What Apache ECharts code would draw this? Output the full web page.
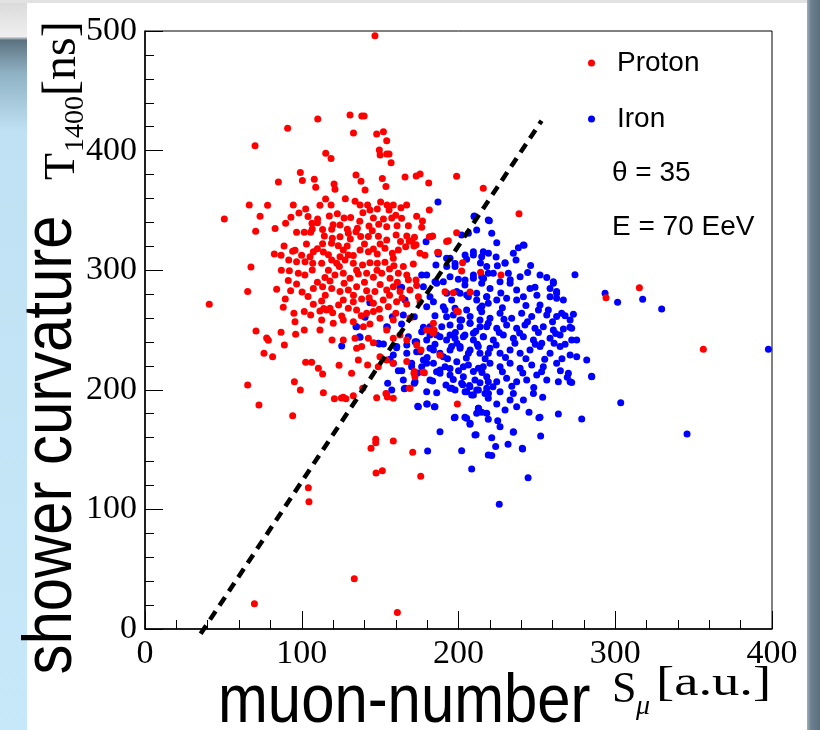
<!DOCTYPE html>
<html>
<head>
<meta charset="utf-8">
<script src="https://cdn.jsdelivr.net/npm/echarts@6/dist/echarts.min.js"></script>
<style>
html,body{margin:0;padding:0;background:#fff;}
#chart{width:820px;height:730px;}
</style>
</head>
<body>
<div id="chart"></div>
<script>
// ---- data (S_mu [a.u.], T1400 [ns]) ----
var protonPoints = [
[146.7,496],
[110.2,426.4],[130.8,429.8],[138.3,428.9],[139.8,428.9],
[91.0,418.6],[133,414.7],[147.8,413.9],[152.1,415.8],[154.2,408.3],
[70.2,404.1],[149.5,400.5],[154.2,397.2],[150,396.3],[155.7,397.2],
[115.3,397.7],[118.7,393.3],[157,389.9],
[99.1,381.6],[134.6,379.6],[165.9,378],[173,378.8],[175.5,380.5],[151.4,376.6],[85.1,373.8],[100.4,374.9],[108,376],[120.6,372.1],[137.8,374.3],[153.7,369.9],[181,372.9],[108.9,369.3],[121.2,367.7],[140.4,367.1],[198.8,378.5],[215.8,368.5],
[115.2,359.5],[127.8,359.8],[150.3,357.1],[134,357.6],[137.2,354.5],[142,354.5],[143.5,350.4],[66.5,354.5],[78.2,354.3],[94.6,354.5],[102.5,351.2],[111.6,354.3],[118.7,354.5],[154.4,354.5],[158.4,354.5],[163.3,352.3],[166.9,354.5],[148.2,351.2],[155.7,350.4],[181.4,350.4],
[98.2,347.8],[93.1,344.2],[73.4,345.1],[110.1,342.8],[106.5,339.2],[110,339.7],[117.6,345.3],[122.7,347.3],[127,343.7],[131.2,344],[145.7,343.7],[152.1,342.8],[157.4,343.7],[163.7,343.4],[173.3,345.1],[177,341.2],[176.5,335.9],[50.6,342.8],[83,334.8],[89.7,339.2],
[106.7,334.4],[113.3,334.1],[119.1,334.2],[124.4,337.8],[129.1,334.2],[135.5,335],[142.9,337],[149.1,338.4],[154.2,336.4],[160.8,337.2],[168,337.2],[70.6,332.5],[96.7,331.7],[101.6,331.7],[105.7,331.7],
[114.4,328.6],[119.5,326.7],[124.4,328],[129.7,330.8],[134.6,332.2],[137.6,328.1],[142.5,328.1],[148.9,328.3],[154.2,325.3],[160.2,329.4],[167,328.6],[171.9,327.5],[168.6,324.2],[172.9,321.3],[182.4,328],[183.5,328.6],[192.4,323.9],
[88.7,320.2],[82.5,313.5],[86.8,312.4],[94.2,315.8],[95.7,316.6],[99.9,312.4],[105.3,311.3],[107.4,315.5],[113.8,315.2],[113.3,322.2],[119,322.5],[123.3,320.5],[126.5,316.9],[129,320.2],[129.7,312.7],[124.4,311.3],[132.9,312.2],[137.2,316.9],[142.5,315.5],[145.7,317.8],[148.2,313.6],[153.1,318.3],[157.8,314.1],[161.6,316.9],[166.3,319.7],[171.6,320.2],[170.3,324.7],[175.4,314.1],[178.6,312.4],
[67.6,302.7],
[91.7,308.5],[96.7,307.1],[102.1,307.1],[107,305.8],[112.7,305.8],[119.1,308.5],[122.3,305.8],[127.6,308.5],[132.9,305.8],[138.8,304.4],[143.5,306.3],[148.2,305.8],[153.1,306.6],[158.4,310],[158.8,303.8],[164.8,303],[171.2,305.2],
[92.1,299.6],[97.8,297.4],[106.7,300.2],[114.8,293.8],[121.2,296],[126.5,297.4],[130.8,293.3],[136.1,296.9],[141.4,297.4],[145.7,294.1],[151,297.4],[156.3,293.3],[161.6,297.4],[167,296],[172.9,291.9],
[91.4,291.3],[96.7,288.5],[100.2,281.8],[92.9,282.9],[65.5,282.1],[41,271.5],[89.5,276],[88.2,269],
[95,264],[101.6,265.4],[107.4,271.5],[112.7,274.3],[118,268.1],[123.5,270.9],
[107.4,284.6],[113.3,286.2],[119.1,284.8],[124.4,282.1],[129.7,283.4],[135,286.2],[141.4,282.9],[146.7,282.1],[154.2,283.4],[158.4,286.2],[162.7,282.1],[169,283.4],[173.3,287.3],
[126.5,275.1],[132.9,273.7],[138.2,276],[145.7,272.3],[152,275.1],[160.5,273.7],[167,271.8],[175.4,273.7],[174.4,277.9],
[95.7,257],[105.7,262.5],[111.6,265.9],[115.9,266.7],[119.7,264.5],[125.5,261.7],[129.7,268.1],[135,266.7],[141.4,264],[145.7,265.4],[149.5,267.3],[155.2,269.5],[149.9,259.8],[158.4,258.4],
[112.7,258.4],[120.1,255.6],[126.5,258.4],[132.9,257],[139.3,252.8],[143.5,255],[154.2,250.1],
[70.8,249.2],[77.6,243.3],[78.7,241.4],[86.8,248.1],[88.9,237.5],[96.1,246.4],[101.6,250.1],
[111.6,250.1],[119.3,241.7],[126.5,241.7],[134,243],[135,234.7],[138.2,236.1],[142.5,243],[145.7,239.4],[158.4,243],[162.7,245.8],[167,241.7],[173.3,237.5],[179.7,250.1],[183.9,247.3],
[75.9,230.5],[81.4,227.7],[102.5,223],[106.3,223],[110.6,218],[113.3,213.2],
[123.8,220.5],[131.8,213.8],[136.1,225],[142,220.8],[148.8,219.3],[149.9,227.7],[154.2,225],[158.4,222.2],[167,223.6],[171.8,215.2],[172.2,211],[177.5,214.6],
[65.5,204],[95.3,206.8],[99.1,199.8],[113.8,197.6],[126.5,193.7],[132.9,195.1],[147.8,193.4],[154.2,196.5],[158.4,192.9],
[181.4,328],[202.6,306.3],[202,299.3],[214.1,298.2],[191.4,282],[196.7,281.2],[198.8,265.9],[184.4,250],[188.2,228.8],[186.7,315],
[72.7,187.3],[94.2,178.4],[120.8,192.6],[125.3,193.2],[128.2,192.6],[138.9,201.2],[153.7,197],[154.6,194],[169.1,201.2],[199.3,188.1],
[147.2,158.6],[147.2,155.8],[144.2,151.1],[158.4,157.2],[170.8,147.7],[147.4,130.4],[151.4,132.4],[175.9,127.7],[104.2,118.2],[104.6,106.5],[133.5,42.1],[69.8,21.2],[161,13.9],
[238.6,347.3],[198.8,331.4],[193.5,324.7],[187.2,314.7],[227.1,296],[207.4,281.8],[199.9,265.3],[184,255.6],[182.9,250],[176.1,233.3],[178.2,214.3],[171.6,213.8],[168.7,201.2],
[315.4,285.4],[294.1,277.0],[356.2,233.9],
[103,322],[110,318],[117,313],[131,326],[140,322],[150,322],[163,324],[117,300],[124,303],[135,300],[148,300],[156,301],
[110,290],[118,291],[127,289],[140,290],[150,288],[161,290],[168,292],[104,278],[115,279],[133,279],[143,277],[156,279],[164,277],
[120,338],[137,341],[145,333],[102,296],[87,300],[84,284],[104,345],[139,348],[160,346],[114,268],[138,262],[160,264],[169,260]
];

var ironPoints = [
[186.9,357],[209.9,344.8],[211.6,333.6],[206.3,330.8],[202.0,329.4],[219,342],[179.3,323.8],
[187.1,313.5],[192.4,309.9],[197.8,303],[209.5,312.7],[214.8,311.3],[215.8,315.5],[218,303],
[185.6,304.3],[179.7,296],[176.5,296],[185,290.4],[190.3,290.4],[194.6,294.6],[199.9,292.4],[204.1,287.6],[209.5,296],[214.8,294.6],[219,297.4],
[163.7,285.7],[177.6,286.2],[181.8,277.9],[184,273.7],[190.3,269.5],[195.6,275.1],[201,280.7],[206.3,277.9],[211.6,280.7],[218,277.9],
[143.5,272.8],[165.9,275.1],[179.7,269.5],[197.8,268.1],[205.2,266.7],[213.7,268.1],[219,272.3],
[140.4,260.6],[134.6,252.8],[154.6,252.2],[157.8,261.1],[163.7,255],[171.8,261.1],[177.6,252.2],
[189.3,252.8],[192.4,261.1],[201,258.4],[207.3,255.6],[213.7,258.4],[218,252.8],
[137.2,243.9],[125.5,236.6],[149.5,238.3],[160.5,235.2],[167,237.5],[173.3,240.2],[179.7,241.6],[186.1,245.8],[192.4,241.6],[197.8,243],[204.1,245.8],[209.5,247.2],[215.8,244.4],
[158.4,229.1],[167,230.5],[177.6,224.9],[184,233.3],[190.3,227.7],[195.6,236.1],[201,234.7],[206.3,230.5],[212.6,236.1],[219,230.5],
[161.6,216],[170.1,219.3],[179.7,222.1],[188.2,216.5],[194.6,217.9],[203.1,219.3],[209.5,215.2],[215.8,219.3],
[154.8,205.4],[165.4,200.9],[171.8,205.4],[183.5,207.3],[196.7,208.7],[202,205.4],[207.3,202.6],[213.7,205.9],[219,206.8],
[157.4,199.8],[186.1,197.6],[197.8,199.8],[209.5,195.6],[216.9,197],
[174,186.2],[179.7,188.1],[184.6,185.9],[194.6,201.2],[202.7,204.3],[205.2,198.4],[208.4,195.7],[212.7,199.8],[218,201.2],[219,192.9],
[197.3,176.7],[204.1,177],[207.3,171.1],[211.6,180.3],[214.8,181.2],[210.5,162.2],[212.7,184.5],[219,175.3],
[188.2,165],[180.3,148.8],[202,149.1],[208.4,133.8],[219,145.5],
[210.1,345.3],[219.7,341.4],[221.2,330.8],[224.4,323],
[235,314.1],[238.2,318.8],[241.4,321.1],[229.7,306.3],[236.7,308.5],[219.1,314.1],[209.5,315.5],[204.2,312.7],[205.2,309.1],
[194.6,309.9],[197.8,305.7],[192.5,303],
[222.2,297.4],[231.8,297.4],[239.3,294.6],[244.1,298],[256.3,294],[260.5,290.4],[248.8,285.7],[258.4,284.8],[262.6,282.1],[274.3,296.3],
[204.2,291.8],[209.5,293.2],[214.8,289],[220.1,284.8],[226.5,290.4],[232.9,289],[237.1,283.4],[241.4,277.9],[245.6,284.8],
[186.1,289],[192.5,280.7],[198.9,282.1],[205.2,279.3],[211.6,275.1],[218,277.9],[224.4,275.1],[230.7,276.5],[237.1,275.1],
[262.6,276.5],[258.4,277.9],[266.9,275.1],
[191.4,266.8],[196.7,262.5],[202,258.4],[207.4,261.2],[214.8,265.3],[220.1,259.8],[226.5,264],[233.9,259.8],[240.3,264],[246.7,261.2],[251,266.7],[256.3,262.5],[262.6,261.2],[265.8,264],[271.2,258.4],[272.2,251.4],
[194.6,254.2],[201,252.8],[207.4,255.6],[213.7,252.8],[219,255.6],[224.4,251.4],[230.7,254.2],[237.1,251.4],[242.4,254.2],[248.8,251.4],[254.1,252.8],[260.5,250],
[181.8,245.8],[188.2,244.4],[194.6,245.8],[203.1,244.4],[209.5,241.6],[215.9,244.4],[222.2,241.6],[228.6,245.8],[235,243],[241.4,244.4],[247.8,241.6],[253.1,238.9],[258.4,243],[264.8,245.8],[272.2,241.6],[275.4,241.6],
[172.3,240.2],[175.5,231.9],[181.8,234.7],[188.2,230.5],[194.6,233.3],[201,236.1],[207.4,233.3],[213.7,230.5],[220.1,234.7],[226.5,230.5],[232.9,233.3],[239.3,230.5],[245.6,233.3],[252,236.1],[258.4,230.5],[264.8,236.1],[271.2,229.1],[275.4,227.7],
[281.8,224.9],[285,211],
[170.1,222.1],[176.5,219.3],[184,222.1],[191.4,219.3],[198.9,223.5],[206.3,220.7],[212.7,218],[220.1,222.1],[226.5,219.3],[232.9,222.1],[239.3,218],[246.7,220.7],[254.1,219.3],[262.6,222.1],[270.1,213.8],
[164.8,208.2],[172.3,206.8],[181.8,208.2],[188.2,213.8],[194.6,212.4],[203.1,211],[210.5,208.2],[218,211],[224.4,206.8],[230.7,209.6],[237.1,206.8],[243.5,208.2],[249.9,212.4],[256.3,208.2],[263.7,206.8],[271.2,206.8],
[165.9,201.2],[179.7,198.4],[195.7,201.2],[204.2,198.4],[211.6,199.8],[219.1,197],[226.5,198.4],[235,197],[241.4,191.5],[247.8,197],
[174.4,185.9],[180.1,188.1],[185.0,185.9],[197.8,177],[205.2,176.2],[212.7,184.5],[218,180.3],[224.4,188.1],[229.7,183.1],[232.9,191.5],[237.1,185.9],[245,181.2],[253.7,193.7],[263.7,179.8],[252,177],
[207.4,172],[225,174.2],[226.5,169.2],[235,165],[211.2,162.5],[221.2,160],[223.7,152.5],[231.6,154.4],[240.7,151.1],[252.4,161.4],[278.6,175.6],[303.5,189.2],
[221.2,145],[244.4,126.5],
[293.5,280.7],[301.5,273.2],[317.5,275.7],[329.6,267.6],[397.7,233.9],
[273.3,263.1],[257.3,266.8],[262.6,280.7],[260.5,289.1],[241.8,320.8],[229.7,305.8],[224.8,303.8],
[271.1,252.3],[266.9,250.9],
[284.9,211.3],[272.2,206],[269.4,210.5],[251.3,176.7],[235,164.5],[240.9,150.5],[226,104.3],[345.8,163],
[143.6,273.7],[135,252.8],[136.8,244.4],[148.9,238.9],[152.1,238.3],[154.2,252.8],[164.8,262.5],[160.6,236.1],[156.3,225.5],[158.4,222.1],[163.8,216],[162.7,285.7],[168,244.4],[173.3,231.9],[176.5,248.6],[181.8,252.8],
[215,270],[228,268.5],[243,270.5],[252,271],
[198,248],[211,249],[226,248],[239,247.5],[251,248],[262,247],
[185,238],[199,239],[212,238],[224,237.5],[236,239],[249,238],[261,239],[268,238],
[180,227],[193,226],[205,226.5],[217,226],[230,227],[243,226],[255,225.5],[266,226],
[174,214],[186,215],[200,216],[215,214.5],[228,215],[241,214],[253,215],[265,216],
[192,204],[207,203.5],[222,202.5],[234,203],[248,202],
[185,262],[229,259],[244,257],[260,257],[268,262],
[227,281],[250,279],[233,292],[216,293],
[214,306],[224,311],[246,304],[252,296]
];

var cutLine = [[35.5,-4],[253,425]];
var xTicks = [0,100,200,300,400];
var yTicks = [0,100,200,300,400,500];
var seriesNames = ['Proton','Iron'];
var infoLines = ['\u03b8 = 35','E = 70 EeV'];

var chart = echarts.init(document.getElementById('chart'), null, {renderer:'canvas'});
var serif = 'Liberation Serif';
var sans = 'Liberation Sans';

var option = {
  animation: false,
  backgroundColor: '#ffffff',
  grid: {left:145, right:48, top:31, bottom:101, show:true, borderColor:'#000', borderWidth:1, backgroundColor:'transparent'},
  legend: {
    orient:'vertical', left:583, top:44, itemGap:28,
    data: seriesNames,
    icon:'circle', itemWidth:7, itemHeight:7,
    textStyle:{fontFamily:sans, fontSize:28, color:'#000', padding:[0,0,0,17], lineHeight:28},
    selectedMode:false
  },
  xAxis: {
    type:'value', min:xTicks[0], max:xTicks[xTicks.length-1], interval:100,
    axisLine:{show:true, onZero:false, lineStyle:{color:'#000', width:1.5}},
    axisTick:{show:true, inside:true, length:18, lineStyle:{color:'#000', width:1}},
    minorTick:{show:true, splitNumber:5, length:9, lineStyle:{color:'#000', width:1}},
    splitLine:{show:false},
    axisLabel:{fontFamily:serif, fontSize:34, color:'#000', margin:8}
  },
  yAxis: {
    type:'value', min:yTicks[0], max:yTicks[yTicks.length-1], interval:100,
    axisLine:{show:true, onZero:false, lineStyle:{color:'#000', width:1.5}},
    axisTick:{show:true, inside:true, length:18, lineStyle:{color:'#000', width:1}},
    minorTick:{show:true, splitNumber:5, length:9, lineStyle:{color:'#000', width:1}},
    splitLine:{show:false},
    axisLabel:{fontFamily:serif, fontSize:34, color:'#000', margin:8}
  },
  series: [
    {name:'Iron', type:'scatter', data:ironPoints, symbolSize:7, itemStyle:{color:'#0000ff', opacity:1}, z:2, silent:true},
    {name:'Proton', type:'scatter', data:protonPoints, symbolSize:7, itemStyle:{color:'#ff0000', opacity:1}, z:3, silent:true},
    {name:'cut', type:'line', data:cutLine, symbol:'none', clip:false, z:5, silent:true,
     lineStyle:{color:'#000', width:4.5, type:[10,7]}}
  ],
  graphic: [
    {type:'rect', z:-10, shape:{x:0,y:0,width:27,height:730}, style:{fill:new echarts.graphic.LinearGradient(0,0,0,1,[
      {offset:0,color:'#d9d9d9'},{offset:0.05,color:'#efefef'},{offset:0.055,color:'#5d7280'},{offset:0.1,color:'#8fb1c4'},{offset:0.18,color:'#bfe1f3'},{offset:1,color:'#c7e8f9'}])}},
    {type:'rect', z:-10, shape:{x:807,y:0,width:13,height:730}, style:{fill:new echarts.graphic.LinearGradient(0,0,1,0,[
      {offset:0,color:'#9fb0bb'},{offset:0.3,color:'#6c8190'},{offset:1,color:'#5a6e7b'}])}},
    {type:'rect', z:-10, shape:{x:0,y:0,width:807,height:3}, style:{fill:'#e2e2e2'}},
    {type:'text', left:612, top:159, style:{text:infoLines[0], font:'28px '+sans, fill:'#000'}},
    {type:'text', left:612, top:213, style:{text:infoLines[1], font:'28px '+sans, fill:'#000'}},
    {type:'text', x:218, y:703, scaleX:0.88, style:{text:'muon-number', font:'68px '+sans, fill:'#000', textAlign:'left', textVerticalAlign:'middle'}},
    {type:'text', x:612, y:690, style:{text:'S', font:'44px '+serif, fill:'#000', textAlign:'left', textVerticalAlign:'middle'}},
    {type:'text', x:636, y:707, style:{text:'\u03bc', font:'italic 28px '+serif, fill:'#000', textAlign:'left', textVerticalAlign:'middle'}},
    {type:'text', x:656, y:684, scaleX:1.3, style:{text:'[a.u.]', font:'42px '+serif, fill:'#000', textAlign:'left', textVerticalAlign:'middle'}},
    {type:'text', x:52, y:445, rotation:Math.PI/2, scaleX:0.88, style:{text:'shower curvature', font:'68px '+sans, fill:'#000', textAlign:'center', textVerticalAlign:'middle'}},
    {type:'text', x:62, y:180, rotation:Math.PI/2, style:{text:'T', font:'44px '+serif, fill:'#000', textAlign:'left', textVerticalAlign:'middle'}},
    {type:'text', x:76, y:152, rotation:Math.PI/2, style:{text:'1400', font:'28px '+serif, fill:'#000', textAlign:'left', textVerticalAlign:'middle'}},
    {type:'text', x:62, y:96, rotation:Math.PI/2, style:{text:'[ns]', font:'48px '+serif, fill:'#000', textAlign:'left', textVerticalAlign:'middle'}}
  ]
};
chart.setOption(option);
</script>
</body>
</html>
